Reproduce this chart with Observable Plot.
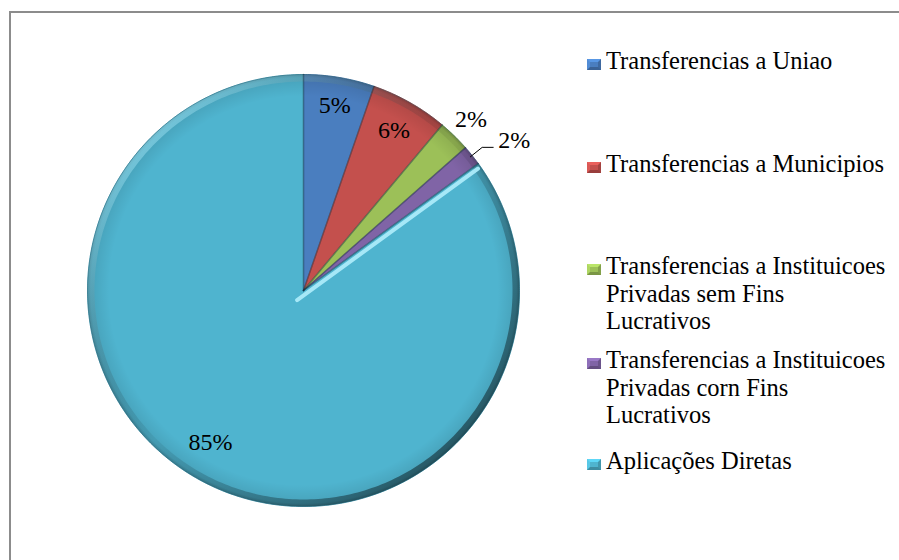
<!DOCTYPE html>
<html>
<head>
<meta charset="utf-8">
<script src="https://cdn.jsdelivr.net/npm/d3@7"></script>
<script src="https://cdn.jsdelivr.net/npm/@observablehq/plot@0.6"></script>
<style>
  html, body { margin: 0; padding: 0; background: #fff; }
  #wrap { position: relative; width: 899px; height: 560px; overflow: hidden; font-family: 'Liberation Serif'; }
  #frame { position: absolute; left: 9px; top: 11px; width: 1200px; height: 1000px; border: 2px solid #8c8c8c; box-sizing: border-box; }
  #chart { position: absolute; left: 0; top: 0; }
  #legend { position: absolute; left: 0; top: 0; width: 899px; height: 560px; pointer-events: none; }
  .entry { position: absolute; left: 606px; width: 284px; font-family: 'Liberation Serif'; font-size: 24.5px; line-height: 27.5px; color: #000; white-space: normal; }
  .mk { position: absolute; width: 14px; height: 11px; box-sizing: border-box; }
  .plot-lab { font-family: 'Liberation Serif'; }
</style>
</head>
<body>
<div id="wrap">
  <div id="frame"></div>
  <div id="chart"></div>
  <div id="legend"></div>
</div>
<script>
// ---- data ----
const categories = [
  "Transferencias a Uniao",
  "Transferencias a Municipios",
  "Transferencias a Instituicoes Privadas sem Fins Lucrativos",
  "Transferencias a Instituicoes Privadas corn Fins Lucrativos",
  "Aplicações Diretas"
];
const values = [5.3, 5.8, 2.4, 1.5, 85.0];
const labels = ["5%", "6%", "2%", "2%", "85%"];
const colors = ["#4a7ebf", "#c4504d", "#9cc058", "#8064a6", "#4fb4cf"];

// ---- layout (pixels) ----
const W = 899, H = 560, CX = 303, CY = 290, R = 216;
const labelRadius = [0.87, 0.85, 1.11, null, 0.825];
const labelShift = [0, 0, 0, 0, 4.5]; // degrees
const FONT = "'Liberation Serif'";

const arcs = d3.pie().sort(null).value(d => d)(values);
const pt = (a, r) => ({x: r * Math.sin(a), y: r * Math.cos(a)});

const slicePts = [];
arcs.forEach((a, i) => {
  slicePts.push({k: i, ...pt(0, 0)});
  const n = Math.max(4, Math.ceil((a.endAngle - a.startAngle) / 0.01));
  for (let j = 0; j <= n; j++) {
    const t = a.startAngle + (a.endAngle - a.startAngle) * j / n;
    slicePts.push({k: i, ...pt(t, 1)});
  }
});
const rim = d3.range(0, 361).map(d => pt(d * Math.PI / 180, 1 - 3.5 / R));
const outer = d3.range(0, 361).map(d => pt(d * Math.PI / 180, 1));

const edges = [];
arcs.forEach((a, i) => {
  edges.push({k: i, ...pt(a.startAngle, 0)}, {k: i, ...pt(a.startAngle, 1)});
});
const big = arcs[4];
const off = 4 / R;
const hp = [pt(big.startAngle, -0.05), pt(big.startAngle, 0.985)].map(p => ({x: p.x + off * Math.cos(big.startAngle), y: p.y - off * Math.sin(big.startAngle)}));

const labIn = [], labOut = [], leader = [];
arcs.forEach((a, i) => {
  const mid = (a.startAngle + a.endAngle) / 2 + labelShift[i] * Math.PI / 180;
  if (labelRadius[i] != null) {
    labIn.push({...pt(mid, labelRadius[i]), t: labels[i]});
  } else {
    const p0 = pt(mid, 0.99), p1 = pt(mid, 1.06);
    const p2 = {x: p1.x + 11 / R, y: p1.y};
    leader.push(p0, p1, p2);
    labOut.push({x: p2.x + 5 / R, y: p2.y + 7 / R, t: labels[i]});
  }
});

const plot = Plot.plot({
  width: W, height: H, margin: 0,
  x: {domain: [-CX / R, (W - CX) / R], axis: null},
  y: {domain: [(CY - H) / R, CY / R], axis: null},
  style: {background: "transparent", overflow: "visible"},
  marks: [
    ...arcs.map((a, i) => Plot.line(slicePts.filter(d => d.k === i), {x: "x", y: "y", fill: colors[i], stroke: colors[i], strokeWidth: 0.8})),
    ...arcs.map((a, i) => Plot.line(slicePts.filter(d => d.k === i), {x: "x", y: "y", fill: "url(#shade)", stroke: "none"})),
    Plot.line(rim, {x: "x", y: "y", stroke: "url(#rim)", strokeWidth: 7}),
    Plot.line(outer, {x: "x", y: "y", stroke: "#1f5566", strokeOpacity: 0.4, strokeWidth: 1}),
    Plot.line(edges, {x: "x", y: "y", z: "k", stroke: "#10283a", strokeOpacity: 0.45, strokeWidth: 1.5}),
    Plot.line(hp, {x: "x", y: "y", stroke: "#a6e8f7", strokeWidth: 4, strokeLinecap: "round"}),
    Plot.line(leader, {x: "x", y: "y", stroke: "#000", strokeWidth: 1}),
    Plot.text(labIn, {x: "x", y: "y", text: "t", textAnchor: "middle", fontSize: 24, fill: "#000", className: "plot-lab"}),
    Plot.text(labOut, {x: "x", y: "y", text: "t", textAnchor: "start", fontSize: 24, fill: "#000", className: "plot-lab"})
  ]
});

const svg = d3.select(plot);
svg.selectAll("text").attr("font-family", "Liberation Serif").style("font-family", "'Liberation Serif'");
const defs = svg.insert("defs", ":first-child");
const g1 = defs.append("linearGradient").attr("id", "rim").attr("gradientUnits", "userSpaceOnUse")
  .attr("x1", CX - R * 0.7).attr("y1", CY - R * 0.7).attr("x2", CX + R * 0.7).attr("y2", CY + R * 0.7);
g1.append("stop").attr("offset", "0").attr("stop-color", "#9fe6f7").attr("stop-opacity", 0.5);
g1.append("stop").attr("offset", "0.5").attr("stop-color", "#000000").attr("stop-opacity", 0.05);
g1.append("stop").attr("offset", "1").attr("stop-color", "#000000").attr("stop-opacity", 0.45);
const g2 = defs.append("radialGradient").attr("id", "shade").attr("gradientUnits", "userSpaceOnUse")
  .attr("cx", CX).attr("cy", CY).attr("r", R);
g2.append("stop").attr("offset", "0.9").attr("stop-color", "#000").attr("stop-opacity", 0);
g2.append("stop").attr("offset", "0.985").attr("stop-color", "#000").attr("stop-opacity", 0.1);
g2.append("stop").attr("offset", "1").attr("stop-color", "#000").attr("stop-opacity", 0.25);

document.getElementById("chart").appendChild(plot);

// legend
const tops = [47, 150, 252, 346, 447];
const leg = d3.select("#legend");
categories.forEach((c, i) => {
  leg.append("div").attr("class", "entry").style("top", tops[i] + "px").text(c);
  const base = d3.color(colors[i]);
  leg.append("div").attr("class", "mk")
    .style("left", "587px").style("top", (tops[i] + 12) + "px")
    .style("background", base.formatHex())
    .style("border-top", `3px solid ${base.brighter(0.5).formatHex()}`)
    .style("border-left", `3px solid ${base.brighter(0.3).formatHex()}`)
    .style("border-bottom", `3px solid ${base.darker(0.7).formatHex()}`)
    .style("border-right", `3px solid ${base.darker(0.5).formatHex()}`);
});
</script>
</body>
</html>
